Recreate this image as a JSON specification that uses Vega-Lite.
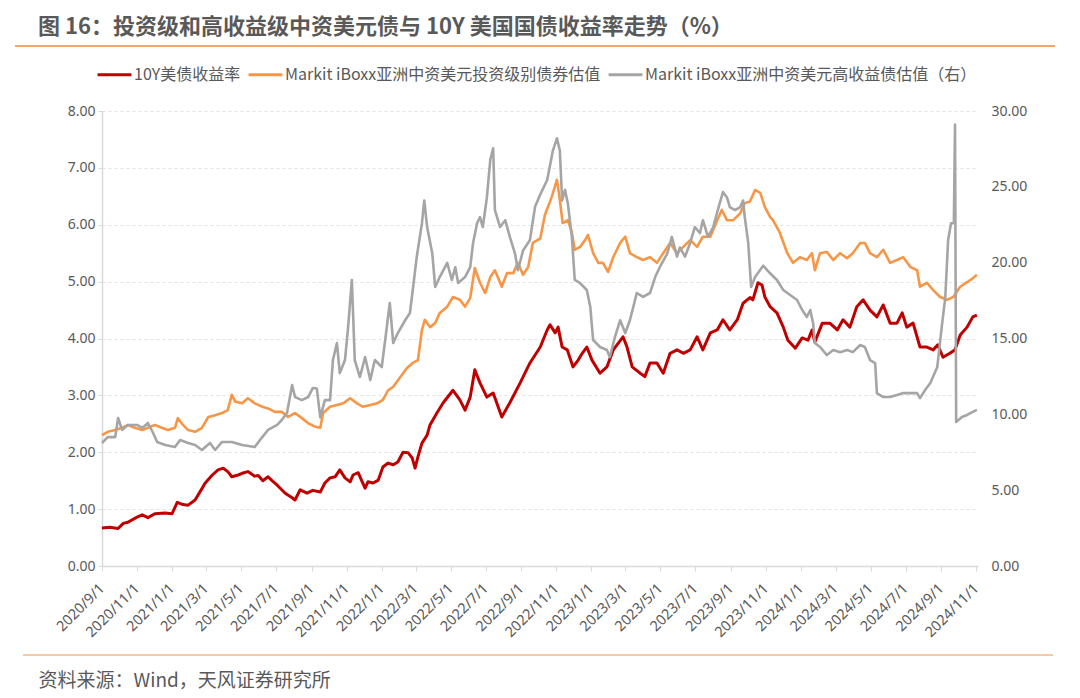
{
  "$schema": "https://vega.github.io/schema/vega-lite/v6.json",
  "width": 876,
  "height": 455,
  "autosize": {"type": "none"},
  "padding": {"left": 102, "top": 111, "right": 102, "bottom": 132},
  "background": "white",
  "config": {
    "view": {"stroke": null},
    "axisX": {
      "tickCount": {"interval": "month", "step": 2},
      "format": "%Y/%-m/%-d",
      "labelAngle": -45,
      "labelAlign": "right",
      "labelBaseline": "middle",
      "labelPadding": 15,
      "labelFont": "Noto Sans",
      "labelFontSize": 14.5,
      "labelColor": "#595959",
      "labelOverlap": false,
      "labelBound": false,
      "labelFlush": false,
      "tickColor": "#D9D9D9",
      "tickSize": 5,
      "domainColor": "#D9D9D9",
      "domainWidth": 1.5,
      "grid": false,
      "titleX": -64,
      "titleY": 114,
      "titleAlign": "left",
      "titleAnchor": "start",
      "titleBaseline": "middle",
      "titleFont": "Noto Sans CJK SC",
      "titleFontSize": 19,
      "titleFontWeight": "normal",
      "titleColor": "#595959"
    },
    "legend": {
      "orient": "none",
      "legendX": -6,
      "legendY": -55,
      "direction": "horizontal",
      "symbolType": "stroke",
      "symbolSize": 1150,
      "symbolStrokeWidth": 3,
      "labelOffset": 1,
      "columnPadding": 1,
      "labelFont": "Noto Sans CJK SC",
      "labelFontSize": 16,
      "labelColor": "#595959",
      "labelLimit": 600
    }
  },
  "title": {
    "text": "图 16：投资级和高收益级中资美元债与 10Y 美国国债收益率走势（%）",
    "anchor": "start",
    "frame": "group",
    "font": "Noto Sans CJK SC",
    "fontSize": 22,
    "fontWeight": "bold",
    "color": "#595959",
    "dx": -64,
    "offset": 6
  },
  "data": {"values": [
    {"d":"2020-09-01","s":"a","v":0.67},{"d":"2020-09-15","s":"a","v":0.68},{"d":"2020-09-29","s":"a","v":0.66},{"d":"2020-10-08","s":"a","v":0.75},{"d":"2020-10-16","s":"a","v":0.77},{"d":"2020-11-01","s":"a","v":0.86},{"d":"2020-11-10","s":"a","v":0.9},{"d":"2020-11-20","s":"a","v":0.85},{"d":"2020-12-02","s":"a","v":0.92},{"d":"2020-12-20","s":"a","v":0.93},{"d":"2021-01-01","s":"a","v":0.92},{"d":"2021-01-10","s":"a","v":1.12},{"d":"2021-01-20","s":"a","v":1.08},{"d":"2021-01-29","s":"a","v":1.07},{"d":"2021-02-10","s":"a","v":1.16},{"d":"2021-02-22","s":"a","v":1.36},{"d":"2021-02-27","s":"a","v":1.45},{"d":"2021-03-12","s":"a","v":1.6},{"d":"2021-03-22","s":"a","v":1.69},{"d":"2021-03-31","s":"a","v":1.72},{"d":"2021-04-08","s":"a","v":1.66},{"d":"2021-04-15","s":"a","v":1.57},{"d":"2021-04-26","s":"a","v":1.6},{"d":"2021-05-03","s":"a","v":1.63},{"d":"2021-05-13","s":"a","v":1.66},{"d":"2021-05-25","s":"a","v":1.58},{"d":"2021-05-31","s":"a","v":1.59},{"d":"2021-06-08","s":"a","v":1.5},{"d":"2021-06-17","s":"a","v":1.57},{"d":"2021-06-24","s":"a","v":1.5},{"d":"2021-07-03","s":"a","v":1.42},{"d":"2021-07-17","s":"a","v":1.28},{"d":"2021-07-29","s":"a","v":1.2},{"d":"2021-08-03","s":"a","v":1.16},{"d":"2021-08-12","s":"a","v":1.34},{"d":"2021-08-24","s":"a","v":1.28},{"d":"2021-09-03","s":"a","v":1.33},{"d":"2021-09-16","s":"a","v":1.3},{"d":"2021-09-24","s":"a","v":1.46},{"d":"2021-10-03","s":"a","v":1.55},{"d":"2021-10-12","s":"a","v":1.57},{"d":"2021-10-20","s":"a","v":1.69},{"d":"2021-10-29","s":"a","v":1.55},{"d":"2021-11-07","s":"a","v":1.48},{"d":"2021-11-12","s":"a","v":1.6},{"d":"2021-11-21","s":"a","v":1.64},{"d":"2021-11-28","s":"a","v":1.48},{"d":"2021-12-03","s":"a","v":1.37},{"d":"2021-12-08","s":"a","v":1.48},{"d":"2021-12-17","s":"a","v":1.46},{"d":"2021-12-26","s":"a","v":1.51},{"d":"2022-01-03","s":"a","v":1.74},{"d":"2022-01-12","s":"a","v":1.81},{"d":"2022-01-21","s":"a","v":1.78},{"d":"2022-01-29","s":"a","v":1.83},{"d":"2022-02-07","s":"a","v":2.0},{"d":"2022-02-16","s":"a","v":1.99},{"d":"2022-02-23","s":"a","v":1.9},{"d":"2022-02-28","s":"a","v":1.72},{"d":"2022-03-05","s":"a","v":1.92},{"d":"2022-03-12","s":"a","v":2.16},{"d":"2022-03-21","s":"a","v":2.3},{"d":"2022-03-26","s":"a","v":2.48},{"d":"2022-04-07","s":"a","v":2.69},{"d":"2022-04-18","s":"a","v":2.87},{"d":"2022-05-05","s":"a","v":3.09},{"d":"2022-05-17","s":"a","v":2.92},{"d":"2022-05-26","s":"a","v":2.74},{"d":"2022-06-04","s":"a","v":2.97},{"d":"2022-06-12","s":"a","v":3.45},{"d":"2022-06-21","s":"a","v":3.22},{"d":"2022-07-03","s":"a","v":2.97},{"d":"2022-07-14","s":"a","v":3.04},{"d":"2022-07-29","s":"a","v":2.62},{"d":"2022-08-12","s":"a","v":2.87},{"d":"2022-08-30","s":"a","v":3.22},{"d":"2022-09-16","s":"a","v":3.57},{"d":"2022-10-04","s":"a","v":3.85},{"d":"2022-10-16","s":"a","v":4.15},{"d":"2022-10-21","s":"a","v":4.24},{"d":"2022-10-30","s":"a","v":4.1},{"d":"2022-11-04","s":"a","v":4.2},{"d":"2022-11-11","s":"a","v":3.85},{"d":"2022-11-20","s":"a","v":3.8},{"d":"2022-11-30","s":"a","v":3.5},{"d":"2022-12-09","s":"a","v":3.62},{"d":"2022-12-16","s":"a","v":3.74},{"d":"2022-12-24","s":"a","v":3.85},{"d":"2023-01-02","s":"a","v":3.62},{"d":"2023-01-16","s":"a","v":3.39},{"d":"2023-01-28","s":"a","v":3.5},{"d":"2023-02-08","s":"a","v":3.8},{"d":"2023-02-25","s":"a","v":4.03},{"d":"2023-03-04","s":"a","v":3.85},{"d":"2023-03-13","s":"a","v":3.5},{"d":"2023-03-27","s":"a","v":3.39},{"d":"2023-04-04","s":"a","v":3.33},{"d":"2023-04-13","s":"a","v":3.57},{"d":"2023-04-25","s":"a","v":3.57},{"d":"2023-05-06","s":"a","v":3.39},{"d":"2023-05-18","s":"a","v":3.74},{"d":"2023-05-30","s":"a","v":3.8},{"d":"2023-06-10","s":"a","v":3.74},{"d":"2023-06-22","s":"a","v":3.8},{"d":"2023-07-04","s":"a","v":4.03},{"d":"2023-07-14","s":"a","v":3.8},{"d":"2023-07-27","s":"a","v":4.1},{"d":"2023-08-08","s":"a","v":4.15},{"d":"2023-08-18","s":"a","v":4.33},{"d":"2023-08-30","s":"a","v":4.15},{"d":"2023-09-12","s":"a","v":4.33},{"d":"2023-09-22","s":"a","v":4.62},{"d":"2023-10-04","s":"a","v":4.72},{"d":"2023-10-09","s":"a","v":4.68},{"d":"2023-10-18","s":"a","v":4.98},{"d":"2023-10-25","s":"a","v":4.94},{"d":"2023-10-30","s":"a","v":4.73},{"d":"2023-11-08","s":"a","v":4.56},{"d":"2023-11-20","s":"a","v":4.45},{"d":"2023-12-01","s":"a","v":4.2},{"d":"2023-12-09","s":"a","v":3.97},{"d":"2023-12-22","s":"a","v":3.83},{"d":"2024-01-03","s":"a","v":4.01},{"d":"2024-01-13","s":"a","v":3.97},{"d":"2024-01-20","s":"a","v":4.15},{"d":"2024-01-25","s":"a","v":3.94},{"d":"2024-02-07","s":"a","v":4.27},{"d":"2024-02-20","s":"a","v":4.27},{"d":"2024-03-04","s":"a","v":4.15},{"d":"2024-03-14","s":"a","v":4.33},{"d":"2024-03-26","s":"a","v":4.2},{"d":"2024-04-07","s":"a","v":4.56},{"d":"2024-04-18","s":"a","v":4.68},{"d":"2024-04-30","s":"a","v":4.5},{"d":"2024-05-12","s":"a","v":4.38},{"d":"2024-05-23","s":"a","v":4.59},{"d":"2024-06-04","s":"a","v":4.27},{"d":"2024-06-16","s":"a","v":4.27},{"d":"2024-06-25","s":"a","v":4.45},{"d":"2024-07-03","s":"a","v":4.2},{"d":"2024-07-14","s":"a","v":4.27},{"d":"2024-07-26","s":"a","v":3.85},{"d":"2024-08-07","s":"a","v":3.85},{"d":"2024-08-18","s":"a","v":3.8},{"d":"2024-08-26","s":"a","v":3.89},{"d":"2024-09-04","s":"a","v":3.67},{"d":"2024-09-16","s":"a","v":3.74},{"d":"2024-09-25","s":"a","v":3.8},{"d":"2024-10-04","s":"a","v":4.06},{"d":"2024-10-16","s":"a","v":4.2},{"d":"2024-10-26","s":"a","v":4.38},{"d":"2024-11-02","s":"a","v":4.41},
    {"d":"2020-09-01","s":"b","v":2.3},{"d":"2020-09-11","s":"b","v":2.36},{"d":"2020-09-24","s":"b","v":2.39},{"d":"2020-10-06","s":"b","v":2.43},{"d":"2020-10-16","s":"b","v":2.48},{"d":"2020-10-28","s":"b","v":2.43},{"d":"2020-11-10","s":"b","v":2.39},{"d":"2020-11-20","s":"b","v":2.43},{"d":"2020-12-02","s":"b","v":2.48},{"d":"2020-12-14","s":"b","v":2.43},{"d":"2020-12-25","s":"b","v":2.39},{"d":"2021-01-06","s":"b","v":2.43},{"d":"2021-01-11","s":"b","v":2.6},{"d":"2021-01-20","s":"b","v":2.48},{"d":"2021-01-29","s":"b","v":2.39},{"d":"2021-02-10","s":"b","v":2.36},{"d":"2021-02-22","s":"b","v":2.43},{"d":"2021-03-05","s":"b","v":2.62},{"d":"2021-03-17","s":"b","v":2.65},{"d":"2021-03-29","s":"b","v":2.69},{"d":"2021-04-08","s":"b","v":2.74},{"d":"2021-04-15","s":"b","v":3.01},{"d":"2021-04-21","s":"b","v":2.89},{"d":"2021-05-03","s":"b","v":2.86},{"d":"2021-05-13","s":"b","v":2.95},{"d":"2021-05-25","s":"b","v":2.86},{"d":"2021-06-07","s":"b","v":2.8},{"d":"2021-06-17","s":"b","v":2.77},{"d":"2021-06-29","s":"b","v":2.71},{"d":"2021-07-11","s":"b","v":2.71},{"d":"2021-07-22","s":"b","v":2.62},{"d":"2021-08-03","s":"b","v":2.69},{"d":"2021-08-15","s":"b","v":2.6},{"d":"2021-08-26","s":"b","v":2.51},{"d":"2021-09-07","s":"b","v":2.45},{"d":"2021-09-16","s":"b","v":2.43},{"d":"2021-09-21","s":"b","v":2.69},{"d":"2021-10-03","s":"b","v":2.8},{"d":"2021-10-15","s":"b","v":2.83},{"d":"2021-10-26","s":"b","v":2.86},{"d":"2021-11-07","s":"b","v":2.95},{"d":"2021-11-19","s":"b","v":2.86},{"d":"2021-11-29","s":"b","v":2.8},{"d":"2021-12-12","s":"b","v":2.83},{"d":"2021-12-24","s":"b","v":2.86},{"d":"2022-01-03","s":"b","v":2.92},{"d":"2022-01-12","s":"b","v":3.09},{"d":"2022-01-21","s":"b","v":3.15},{"d":"2022-02-02","s":"b","v":3.32},{"d":"2022-02-14","s":"b","v":3.48},{"d":"2022-02-24","s":"b","v":3.57},{"d":"2022-03-05","s":"b","v":3.62},{"d":"2022-03-12","s":"b","v":4.15},{"d":"2022-03-17","s":"b","v":4.33},{"d":"2022-03-26","s":"b","v":4.2},{"d":"2022-04-04","s":"b","v":4.27},{"d":"2022-04-12","s":"b","v":4.45},{"d":"2022-04-25","s":"b","v":4.56},{"d":"2022-05-05","s":"b","v":4.73},{"d":"2022-05-17","s":"b","v":4.68},{"d":"2022-05-26","s":"b","v":4.56},{"d":"2022-06-04","s":"b","v":4.71},{"d":"2022-06-12","s":"b","v":5.24},{"d":"2022-06-21","s":"b","v":4.98},{"d":"2022-06-30","s":"b","v":4.8},{"d":"2022-07-09","s":"b","v":5.08},{"d":"2022-07-17","s":"b","v":5.2},{"d":"2022-07-29","s":"b","v":4.91},{"d":"2022-08-07","s":"b","v":5.15},{"d":"2022-08-18","s":"b","v":5.15},{"d":"2022-08-26","s":"b","v":5.33},{"d":"2022-09-04","s":"b","v":5.12},{"d":"2022-09-13","s":"b","v":5.26},{"d":"2022-09-21","s":"b","v":5.68},{"d":"2022-10-04","s":"b","v":5.76},{"d":"2022-10-12","s":"b","v":6.17},{"d":"2022-10-24","s":"b","v":6.49},{"d":"2022-11-02","s":"b","v":6.79},{"d":"2022-11-07","s":"b","v":6.44},{"d":"2022-11-12","s":"b","v":6.03},{"d":"2022-11-21","s":"b","v":6.08},{"d":"2022-11-28","s":"b","v":5.86},{"d":"2022-12-03","s":"b","v":5.56},{"d":"2022-12-12","s":"b","v":5.61},{"d":"2022-12-21","s":"b","v":5.73},{"d":"2022-12-26","s":"b","v":5.82},{"d":"2023-01-04","s":"b","v":5.5},{"d":"2023-01-13","s":"b","v":5.33},{"d":"2023-01-21","s":"b","v":5.33},{"d":"2023-01-30","s":"b","v":5.17},{"d":"2023-02-08","s":"b","v":5.43},{"d":"2023-02-20","s":"b","v":5.68},{"d":"2023-03-01","s":"b","v":5.79},{"d":"2023-03-09","s":"b","v":5.5},{"d":"2023-03-21","s":"b","v":5.43},{"d":"2023-04-01","s":"b","v":5.38},{"d":"2023-04-13","s":"b","v":5.43},{"d":"2023-04-25","s":"b","v":5.33},{"d":"2023-05-06","s":"b","v":5.5},{"d":"2023-05-18","s":"b","v":5.68},{"d":"2023-05-30","s":"b","v":5.5},{"d":"2023-06-10","s":"b","v":5.61},{"d":"2023-06-22","s":"b","v":5.73},{"d":"2023-07-04","s":"b","v":5.61},{"d":"2023-07-14","s":"b","v":5.79},{"d":"2023-07-27","s":"b","v":5.79},{"d":"2023-08-08","s":"b","v":6.08},{"d":"2023-08-16","s":"b","v":6.26},{"d":"2023-08-25","s":"b","v":6.08},{"d":"2023-09-05","s":"b","v":6.08},{"d":"2023-09-17","s":"b","v":6.2},{"d":"2023-09-25","s":"b","v":6.38},{"d":"2023-10-04","s":"b","v":6.41},{"d":"2023-10-13","s":"b","v":6.61},{"d":"2023-10-22","s":"b","v":6.56},{"d":"2023-10-30","s":"b","v":6.31},{"d":"2023-11-08","s":"b","v":6.14},{"d":"2023-11-13","s":"b","v":6.08},{"d":"2023-11-25","s":"b","v":5.86},{"d":"2023-12-08","s":"b","v":5.5},{"d":"2023-12-18","s":"b","v":5.33},{"d":"2023-12-30","s":"b","v":5.43},{"d":"2024-01-11","s":"b","v":5.38},{"d":"2024-01-20","s":"b","v":5.5},{"d":"2024-01-25","s":"b","v":5.2},{"d":"2024-02-03","s":"b","v":5.5},{"d":"2024-02-15","s":"b","v":5.52},{"d":"2024-02-26","s":"b","v":5.38},{"d":"2024-03-09","s":"b","v":5.5},{"d":"2024-03-21","s":"b","v":5.41},{"d":"2024-03-31","s":"b","v":5.5},{"d":"2024-04-13","s":"b","v":5.68},{"d":"2024-04-21","s":"b","v":5.68},{"d":"2024-04-30","s":"b","v":5.5},{"d":"2024-05-12","s":"b","v":5.43},{"d":"2024-05-23","s":"b","v":5.56},{"d":"2024-06-04","s":"b","v":5.33},{"d":"2024-06-16","s":"b","v":5.38},{"d":"2024-06-27","s":"b","v":5.43},{"d":"2024-07-09","s":"b","v":5.26},{"d":"2024-07-21","s":"b","v":5.2},{"d":"2024-07-26","s":"b","v":4.91},{"d":"2024-08-07","s":"b","v":4.98},{"d":"2024-08-18","s":"b","v":4.85},{"d":"2024-08-30","s":"b","v":4.73},{"d":"2024-09-11","s":"b","v":4.68},{"d":"2024-09-22","s":"b","v":4.73},{"d":"2024-10-04","s":"b","v":4.91},{"d":"2024-10-16","s":"b","v":4.99},{"d":"2024-10-26","s":"b","v":5.06},{"d":"2024-11-02","s":"b","v":5.12},
    {"d":"2020-09-01","s":"c","v":8.11},{"d":"2020-09-11","s":"c","v":8.5},{"d":"2020-09-24","s":"c","v":8.5},{"d":"2020-09-29","s":"c","v":9.76},{"d":"2020-10-06","s":"c","v":8.97},{"d":"2020-10-16","s":"c","v":9.3},{"d":"2020-11-01","s":"c","v":9.3},{"d":"2020-11-10","s":"c","v":9.1},{"d":"2020-11-20","s":"c","v":9.43},{"d":"2020-11-29","s":"c","v":8.77},{"d":"2020-12-06","s":"c","v":8.18},{"d":"2020-12-20","s":"c","v":7.98},{"d":"2021-01-06","s":"c","v":7.85},{"d":"2021-01-15","s":"c","v":8.31},{"d":"2021-01-29","s":"c","v":8.11},{"d":"2021-02-10","s":"c","v":7.98},{"d":"2021-02-22","s":"c","v":7.65},{"d":"2021-03-08","s":"c","v":8.11},{"d":"2021-03-17","s":"c","v":7.65},{"d":"2021-03-29","s":"c","v":8.18},{"d":"2021-04-15","s":"c","v":8.18},{"d":"2021-05-03","s":"c","v":7.98},{"d":"2021-05-25","s":"c","v":7.85},{"d":"2021-06-07","s":"c","v":8.5},{"d":"2021-06-17","s":"c","v":8.97},{"d":"2021-07-03","s":"c","v":9.3},{"d":"2021-07-11","s":"c","v":9.63},{"d":"2021-07-20","s":"c","v":10.09},{"d":"2021-07-29","s":"c","v":11.93},{"d":"2021-08-03","s":"c","v":11.14},{"d":"2021-08-15","s":"c","v":10.94},{"d":"2021-08-26","s":"c","v":11.14},{"d":"2021-09-03","s":"c","v":11.74},{"d":"2021-09-10","s":"c","v":11.7},{"d":"2021-09-16","s":"c","v":9.8},{"d":"2021-09-24","s":"c","v":10.94},{"d":"2021-10-03","s":"c","v":10.94},{"d":"2021-10-08","s":"c","v":13.58},{"d":"2021-10-15","s":"c","v":14.7},{"d":"2021-10-20","s":"c","v":12.72},{"d":"2021-10-29","s":"c","v":13.58},{"d":"2021-11-03","s":"c","v":15.56},{"d":"2021-11-10","s":"c","v":18.86},{"d":"2021-11-15","s":"c","v":13.58},{"d":"2021-11-24","s":"c","v":12.46},{"d":"2021-12-03","s":"c","v":13.78},{"d":"2021-12-12","s":"c","v":12.26},{"d":"2021-12-20","s":"c","v":13.58},{"d":"2022-01-01","s":"c","v":13.12},{"d":"2022-01-07","s":"c","v":14.9},{"d":"2022-01-15","s":"c","v":17.34},{"d":"2022-01-21","s":"c","v":14.7},{"d":"2022-01-29","s":"c","v":15.36},{"d":"2022-02-11","s":"c","v":16.22},{"d":"2022-02-19","s":"c","v":16.68},{"d":"2022-02-24","s":"c","v":18.2},{"d":"2022-03-03","s":"c","v":20.4},{"d":"2022-03-12","s":"c","v":22.6},{"d":"2022-03-16","s":"c","v":24.1},{"d":"2022-03-21","s":"c","v":22.35},{"d":"2022-03-30","s":"c","v":20.6},{"d":"2022-04-04","s":"c","v":18.4},{"d":"2022-04-12","s":"c","v":19.05},{"d":"2022-04-25","s":"c","v":19.98},{"d":"2022-05-03","s":"c","v":18.86},{"d":"2022-05-09","s":"c","v":19.7},{"d":"2022-05-14","s":"c","v":18.66},{"d":"2022-05-26","s":"c","v":19.05},{"d":"2022-06-04","s":"c","v":19.7},{"d":"2022-06-09","s":"c","v":21.3},{"d":"2022-06-16","s":"c","v":22.6},{"d":"2022-06-21","s":"c","v":23.0},{"d":"2022-06-26","s":"c","v":22.35},{"d":"2022-07-03","s":"c","v":24.3},{"d":"2022-07-09","s":"c","v":26.8},{"d":"2022-07-14","s":"c","v":27.55},{"d":"2022-07-17","s":"c","v":23.47},{"d":"2022-07-26","s":"c","v":22.35},{"d":"2022-08-04","s":"c","v":22.8},{"d":"2022-08-12","s":"c","v":21.7},{"d":"2022-08-21","s":"c","v":20.6},{"d":"2022-08-26","s":"c","v":19.5},{"d":"2022-09-04","s":"c","v":20.8},{"d":"2022-09-16","s":"c","v":21.5},{"d":"2022-09-25","s":"c","v":23.7},{"d":"2022-10-04","s":"c","v":24.5},{"d":"2022-10-16","s":"c","v":25.45},{"d":"2022-10-26","s":"c","v":27.4},{"d":"2022-11-02","s":"c","v":28.2},{"d":"2022-11-07","s":"c","v":27.4},{"d":"2022-11-11","s":"c","v":24.1},{"d":"2022-11-16","s":"c","v":24.8},{"d":"2022-11-21","s":"c","v":23.9},{"d":"2022-11-28","s":"c","v":21.7},{"d":"2022-12-03","s":"c","v":18.86},{"d":"2022-12-12","s":"c","v":18.66},{"d":"2022-12-24","s":"c","v":18.2},{"d":"2022-12-30","s":"c","v":17.1},{"d":"2023-01-04","s":"c","v":14.9},{"d":"2023-01-16","s":"c","v":14.44},{"d":"2023-01-28","s":"c","v":14.24},{"d":"2023-02-02","s":"c","v":13.78},{"d":"2023-02-11","s":"c","v":15.1},{"d":"2023-02-20","s":"c","v":16.2},{"d":"2023-03-01","s":"c","v":15.36},{"d":"2023-03-09","s":"c","v":16.2},{"d":"2023-03-21","s":"c","v":18.0},{"d":"2023-04-01","s":"c","v":17.74},{"d":"2023-04-13","s":"c","v":18.0},{"d":"2023-04-22","s":"c","v":19.05},{"d":"2023-04-30","s":"c","v":19.7},{"d":"2023-05-13","s":"c","v":20.6},{"d":"2023-05-21","s":"c","v":21.7},{"d":"2023-05-30","s":"c","v":20.4},{"d":"2023-06-04","s":"c","v":21.0},{"d":"2023-06-13","s":"c","v":20.4},{"d":"2023-06-22","s":"c","v":21.3},{"d":"2023-06-30","s":"c","v":22.35},{"d":"2023-07-09","s":"c","v":21.95},{"d":"2023-07-14","s":"c","v":22.8},{"d":"2023-07-23","s":"c","v":21.7},{"d":"2023-08-01","s":"c","v":22.35},{"d":"2023-08-09","s":"c","v":23.47},{"d":"2023-08-18","s":"c","v":24.66},{"d":"2023-08-25","s":"c","v":24.3},{"d":"2023-08-30","s":"c","v":23.67},{"d":"2023-09-08","s":"c","v":23.47},{"d":"2023-09-17","s":"c","v":23.67},{"d":"2023-09-22","s":"c","v":24.1},{"d":"2023-09-25","s":"c","v":23.0},{"d":"2023-10-01","s":"c","v":21.3},{"d":"2023-10-06","s":"c","v":18.4},{"d":"2023-10-13","s":"c","v":19.05},{"d":"2023-10-27","s":"c","v":19.8},{"d":"2023-11-08","s":"c","v":19.3},{"d":"2023-11-20","s":"c","v":18.86},{"d":"2023-12-01","s":"c","v":18.2},{"d":"2023-12-13","s":"c","v":17.87},{"d":"2023-12-25","s":"c","v":17.54},{"d":"2024-01-03","s":"c","v":16.88},{"d":"2024-01-11","s":"c","v":16.42},{"d":"2024-01-17","s":"c","v":16.88},{"d":"2024-01-22","s":"c","v":16.0},{"d":"2024-01-25","s":"c","v":14.7},{"d":"2024-02-03","s":"c","v":14.44},{"d":"2024-02-15","s":"c","v":13.91},{"d":"2024-02-26","s":"c","v":14.24},{"d":"2024-03-09","s":"c","v":14.1},{"d":"2024-03-21","s":"c","v":14.24},{"d":"2024-03-31","s":"c","v":14.1},{"d":"2024-04-13","s":"c","v":14.57},{"d":"2024-04-21","s":"c","v":14.44},{"d":"2024-04-30","s":"c","v":13.58},{"d":"2024-05-09","s":"c","v":13.38},{"d":"2024-05-12","s":"c","v":11.4},{"d":"2024-05-23","s":"c","v":11.14},{"d":"2024-06-04","s":"c","v":11.14},{"d":"2024-06-16","s":"c","v":11.27},{"d":"2024-06-27","s":"c","v":11.4},{"d":"2024-07-09","s":"c","v":11.4},{"d":"2024-07-21","s":"c","v":11.4},{"d":"2024-07-26","s":"c","v":11.07},{"d":"2024-08-04","s":"c","v":11.6},{"d":"2024-08-13","s":"c","v":12.07},{"d":"2024-08-25","s":"c","v":13.1},{"d":"2024-09-02","s":"c","v":15.8},{"d":"2024-09-08","s":"c","v":17.7},{"d":"2024-09-13","s":"c","v":21.5},{"d":"2024-09-18","s":"c","v":22.6},{"d":"2024-09-23","s":"c","v":22.6},{"d":"2024-09-25","s":"c","v":29.1},{"d":"2024-09-27","s":"c","v":9.5},{"d":"2024-10-07","s":"c","v":9.82},{"d":"2024-10-16","s":"c","v":9.96},{"d":"2024-10-25","s":"c","v":10.15},{"d":"2024-11-02","s":"c","v":10.29}
  ]},
  "resolve": {"scale": {"y": "independent"}},
  "layer": [
    {
      "mark": {"type": "rule", "color": "#F4A867", "strokeWidth": 1.5},
      "encoding": {
        "x": {"datum": {"year": 2020, "month": 4, "date": 3}, "type": "temporal", "scale": {"domain": [{"year": 2020, "month": 9, "date": 1}, {"year": 2024, "month": 11, "date": 4}]}, "title": "资料来源：Wind，天风证券研究所"},
        "x2": {"datum": {"year": 2025, "month": 3, "date": 18}},
        "y": {"datum": 9.14, "type": "quantitative", "scale": {"domain": [0, 8]}, "axis": null}
      }
    },
    {
      "mark": {"type": "rule", "color": "#F8C9A0", "strokeWidth": 1.5},
      "encoding": {
        "x": {"datum": {"year": 2020, "month": 4, "date": 17}, "type": "temporal", "scale": {"domain": [{"year": 2020, "month": 9, "date": 1}, {"year": 2024, "month": 11, "date": 4}]}, "title": "资料来源：Wind，天风证券研究所"},
        "x2": {"datum": {"year": 2025, "month": 3, "date": 14}},
        "y": {"datum": -1.565, "type": "quantitative", "scale": {"domain": [0, 8]}, "axis": null}
      }
    },
    {
      "transform": [{"filter": "datum.s != 'c'"}],
      "mark": {"type": "line", "strokeJoin": "round"},
      "encoding": {
        "x": {
          "field": "d", "type": "temporal",
          "title": "资料来源：Wind，天风证券研究所",
          "scale": {"domain": [{"year": 2020, "month": 9, "date": 1}, {"year": 2024, "month": 11, "date": 4}]}
        },
        "y": {
          "field": "v", "type": "quantitative",
          "scale": {"domain": [0, 8]},
          "axis": {
            "values": [0, 1, 2, 3, 4, 5, 6, 7, 8],
            "format": ".2f",
            "title": null,
            "labelFont": "Noto Sans",
            "labelFontSize": 14,
            "labelColor": "#595959",
            "labelPadding": 3,
            "tickColor": "#D9D9D9",
            "tickSize": 4,
            "domainColor": "#D9D9D9",
            "domainWidth": 1.5,
            "grid": true,
            "gridColor": "#E3E3E3",
            "gridDash": [3, 3]
          }
        },
        "strokeWidth": {"condition": {"test": "datum.s == 'a'", "value": 3}, "value": 2.6},
        "color": {
          "field": "s", "type": "nominal",
          "scale": {"domain": ["a", "b", "c"], "range": ["#C00000", "#F79646", "#A5A5A5"]},
          "legend": {
            "title": null,
            "labelExpr": "datum.value == 'a' ? '10Y美债收益率' : datum.value == 'b' ? 'Markit iBoxx亚洲中资美元投资级别债券估值' : 'Markit iBoxx亚洲中资美元高收益债估值（右）'"
          }
        }
      }
    },
    {
      "transform": [{"filter": "datum.s == 'c'"}],
      "mark": {"type": "line", "strokeWidth": 2.6, "strokeJoin": "round"},
      "encoding": {
        "x": {"field": "d", "type": "temporal", "title": "资料来源：Wind，天风证券研究所", "scale": {"domain": [{"year": 2020, "month": 9, "date": 1}, {"year": 2024, "month": 11, "date": 4}]}},
        "y": {
          "field": "v", "type": "quantitative",
          "scale": {"domain": [0, 30]},
          "axis": {
            "orient": "right",
            "values": [0, 5, 10, 15, 20, 25, 30],
            "format": ".2f",
            "title": null,
            "labelFont": "Noto Sans",
            "labelFontSize": 14,
            "labelColor": "#595959",
            "labelPadding": 13,
            "ticks": false,
            "domain": false,
            "grid": false
          }
        },
        "color": {
          "field": "s", "type": "nominal",
          "scale": {"domain": ["a", "b", "c"], "range": ["#C00000", "#F79646", "#A5A5A5"]},
          "legend": {
            "title": null,
            "labelExpr": "datum.value == 'a' ? '10Y美债收益率' : datum.value == 'b' ? 'Markit iBoxx亚洲中资美元投资级别债券估值' : 'Markit iBoxx亚洲中资美元高收益债估值（右）'"
          }
        }
      }
    }
  ]
}
